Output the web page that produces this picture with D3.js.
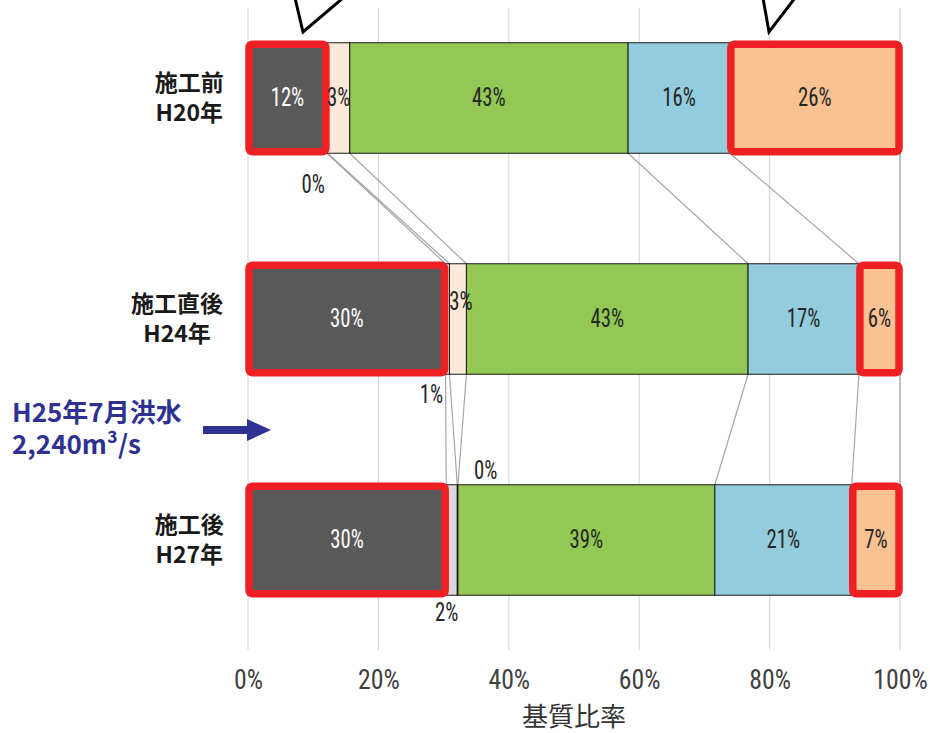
<!DOCTYPE html>
<html><head><meta charset="utf-8">
<script src="https://cdn.jsdelivr.net/npm/d3@7"></script>
<style>body{margin:0;background:#fff} svg{display:block}</style>
</head><body>
<svg id="chart" width="930" height="733"></svg>
<script>
// ---- data ----
const categories = ["施工前", "施工直後", "施工後"];
const categoryYears = ["H20年", "H24年", "H27年"];
const seriesKeys = ["s1", "s2", "s3", "s4", "s5", "s6"];
const s1Values = [12.1, 30.3, 30.4];   // dark grey
const s2Values = [0.1, 0.6, 1.7];      // light grey
const s3Values = [3.4, 2.6, 0.1];      // peach
const s4Values = [42.7, 43.2, 39.4];   // green
const s5Values = [15.6, 17.0, 21.0];   // blue
const s6Values = [26.1, 6.3, 7.4];     // orange
const tickValues = [0, 20, 40, 60, 80, 100];
const tickLabels = ["0%", "20%", "40%", "60%", "80%", "100%"];
const highlightedSeries = ["s1", "s6"];
const floodNote = ["H25年7月洪水", "2,240m³/s"];
const axisTitle = "基質比率";

// ---- build table ----
const allValues = [s1Values, s2Values, s3Values, s4Values, s5Values, s6Values];
const table = categories.map((c, i) => {
  const row = { cat: c };
  seriesKeys.forEach((k, j) => row[k] = allValues[j][i]);
  return row;
});
const colors = { s1: "#595959", s2: "#d9d9d9", s3: "#fde9d9", s4: "#92c853", s5: "#93cddd", s6: "#fac192" };
const labelColors = { s1: "#ffffff", s2: "#262626", s3: "#262626", s4: "#262626", s5: "#262626", s6: "#262626" };

const svg = d3.select("#chart");
const x = d3.scaleLinear().domain([0, 100]).range([248, 900]);
const y = d3.scaleBand().domain(categories).range([-12.5, 650.5]).paddingInner(0.5).paddingOuter(0.25);
const bw = y.bandwidth();
const narrow = "'Liberation Sans Narrow','Arial Narrow','Roboto Condensed','Liberation Sans',sans-serif";
const jp = "'Noto Sans CJK JP','Noto Sans CJK SC',sans-serif";

// gridlines
svg.append("g").selectAll("line").data(tickValues).join("line")
  .attr("x1", d => x(d)).attr("x2", d => x(d))
  .attr("y1", 8).attr("y2", 650)
  .attr("stroke", "#d9d9d9").attr("stroke-width", 1.2);

const stacked = d3.stack().keys(seriesKeys)(table);

// series lines
const sl = svg.append("g");
stacked.forEach(layer => {
  for (let i = 0; i < categories.length - 1; i++) {
    sl.append("line")
      .attr("x1", x(layer[i][1])).attr("y1", y(categories[i]) + bw)
      .attr("x2", x(layer[i + 1][1])).attr("y2", y(categories[i + 1]))
      .attr("stroke", "#a6a6a6").attr("stroke-width", 1.2);
  }
});

// bars
const bars = svg.append("g");
stacked.forEach(layer => {
  bars.selectAll(null).data(layer).join("rect")
    .attr("x", d => x(d[0])).attr("width", d => x(d[1]) - x(d[0]))
    .attr("y", d => y(d.data.cat)).attr("height", bw)
    .attr("fill", colors[layer.key])
    .attr("stroke", "#1a1a1a").attr("stroke-width", 1);
});

// red highlight frames
const hl = svg.append("g");
stacked.filter(l => highlightedSeries.includes(l.key)).forEach(layer => {
  hl.selectAll(null).data(layer).join("rect")
    .attr("x", d => x(d[0]) + 1).attr("width", d => x(d[1]) - x(d[0]) - 2)
    .attr("y", d => y(d.data.cat) + 1.5).attr("height", bw - 3)
    .attr("rx", 3.5)
    .attr("fill", "none").attr("stroke", "#ee2024").attr("stroke-width", 7.5);
});

// data labels
function condText(g, px, py, str, size, sx, color, family, weight) {
  return g.append("text")
    .attr("transform", `translate(${px},${py}) scale(${sx},1)`)
    .attr("text-anchor", "middle").attr("dominant-baseline", "central")
    .attr("font-family", family).attr("font-size", size)
    .attr("font-weight", weight || "normal")
    .attr("fill", color).text(str);
}
// manual placement for tiny segments (offset from segment centre)
const outside = {
  "s2|施工前":   { dx: -14, pos: "below", dy: 32 },
  "s2|施工直後": { dx: -16, pos: "below", dy: 21 },
  "s2|施工後":   { dx: -5,  pos: "below", dy: 18 },
  "s3|施工後":   { dx: 28,  pos: "above", dy: -14 },
  "s3|施工直後": { dx: 3,   pos: "mid",   dy: -17 }
};
const lg = svg.append("g");
stacked.forEach(layer => {
  layer.forEach(d => {
    const v = d[1] - d[0];
    const cx = (x(d[0]) + x(d[1])) / 2;
    const top = y(d.data.cat);
    const o = outside[layer.key + "|" + d.data.cat];
    let px = cx, py = top + bw / 2, col = labelColors[layer.key];
    if (o) {
      px = cx + o.dx;
      py = o.pos === "below" ? top + bw + o.dy : o.pos === "above" ? top + o.dy : top + bw / 2 + o.dy;
      if (o.pos !== "mid") col = "#262626";
    }
    condText(lg, px, py, Math.round(v) + "%", 25, 0.83, col, narrow);
  });
});

// x axis
const ax = svg.append("g").attr("transform", "translate(0,680)")
  .call(d3.axisBottom(x).tickValues(tickValues).tickFormat((d, i) => tickLabels[i]).tickSize(0));
ax.select(".domain").remove();
ax.selectAll("text")
  .attr("y", 0).attr("dy", null).attr("dominant-baseline", "central")
  .attr("transform", "scale(0.92,1)")
  .attr("font-family", narrow).attr("font-size", 28).attr("fill", "#404040");

svg.append("text").attr("x", 574).attr("y", 714)
  .attr("text-anchor", "middle").attr("dominant-baseline", "central")
  .attr("font-family", jp).attr("font-size", 26).attr("fill", "#333333")
  .text(axisTitle);

// category labels: one two-line text per category, lines centred in a right-aligned block
const cg = svg.append("g");
categories.forEach((c, i) => {
  const cy = y(c) + bw / 2;
  const blockW = Math.max(c.length * 24.5, 66);
  const cx = 226 - blockW / 2;
  const t = cg.append("text")
    .attr("text-anchor", "middle")
    .attr("font-family", jp).attr("font-weight", 700).attr("font-size", 23).attr("fill", "#1a1a1a");
  t.append("tspan").attr("x", cx).attr("y", cy - 7).text(c);
  t.append("tspan").attr("x", cx).attr("y", cy + 23).text(categoryYears[i]);
});

// flood note + arrow
const navy = "#2e3192";
const fn = svg.append("text")
  .attr("font-family", jp).attr("font-weight", 700).attr("font-size", 26).attr("fill", navy);
floodNote.forEach((t, i) => {
  fn.append("tspan").attr("x", 12).attr("y", 422 + i * 32).text(t);
});
svg.append("path")
  .attr("d", "M203,426 L247,426 L247,419 L271,430 L247,441 L247,434 L203,434 Z")
  .attr("fill", navy);

// callout pointers at top
svg.append("path").attr("d", "M295,-2 L303,32 L343,-2").attr("fill", "#fff")
  .attr("stroke", "#000").attr("stroke-width", 3);
svg.append("path").attr("d", "M763,-2 L769,32 L795,-2").attr("fill", "#fff")
  .attr("stroke", "#000").attr("stroke-width", 3);
</script>
</body></html>
